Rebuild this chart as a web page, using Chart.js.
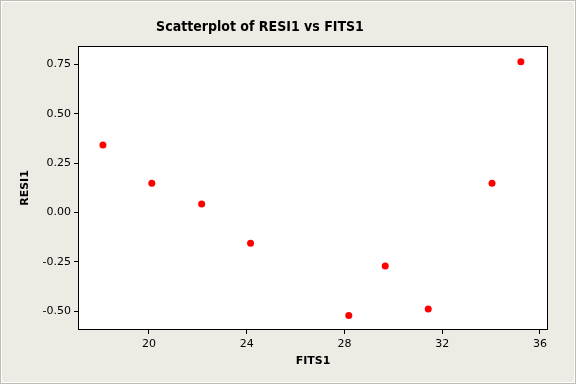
<!doctype html>
<html lang="en">
  <head>
    <meta charset="utf-8">
    <title>Scatterplot of RESI1 vs FITS1</title>
    <style>
      * { margin: 0; padding: 0; }
      body { width: 576px; height: 384px; overflow: hidden; }
      .chartBox { position: relative; width: 576px; height: 384px; }
    </style>
  </head>
  <body>
    <div class="chartBox">
      <canvas id="myChart"></canvas>
    </div>
    <script src="https://cdn.jsdelivr.net/npm/chart.js/dist/chart.umd.min.js"></script>
    <script>
      // data
      const fits = [18.12, 20.12, 22.16, 24.16, 28.18, 29.67, 31.43, 34.04, 35.22];
      const resi = [0.341, 0.148, 0.042, -0.156, -0.522, -0.272, -0.489, 0.148, 0.763];
      const xTicks = [20, 24, 28, 32, 36];
      const yTicks = [-0.50, -0.25, 0.00, 0.25, 0.50, 0.75];

      const bg = '#EEEBE4';
      const fontFamily = 'Tahoma, "DejaVu Sans", sans-serif';
      const titleFamily = '"DejaVu Sans Condensed", "DejaVu Sans", sans-serif';

      const points = fits.map((x, i) => ({ x, y: resi[i] }));

      // background, white plot area, frame and title
      const minitabFrame = {
        id: 'minitabFrame',
        beforeDraw(chart) {
          const { ctx, chartArea: { left, top, right, bottom }, width, height } = chart;
          ctx.save();
          ctx.fillStyle = bg;
          ctx.fillRect(0, 0, width, height);
          ctx.strokeStyle = '#BDBDB5';
          ctx.lineWidth = 1;
          ctx.strokeRect(0.5, 0.5, width - 1, height - 1);
          ctx.strokeStyle = '#FFFFFF';
          ctx.strokeRect(1.5, 1.5, width - 3, height - 3);
          ctx.fillStyle = '#FFFFFF';
          ctx.fillRect(left, top, right - left, bottom - top);
          ctx.restore();
        },
        afterDraw(chart) {
          const { ctx, chartArea: { left, top, right, bottom } } = chart;
          ctx.save();
          ctx.strokeStyle = '#000000';
          ctx.lineWidth = 1;
          ctx.strokeRect(left + 0.5, top + 0.5, right - left - 1, bottom - top - 1);
          ctx.fillStyle = '#000000';
          ctx.font = 'bold 14px ' + titleFamily;
          ctx.textAlign = 'center';
          ctx.textBaseline = 'middle';
          ctx.fillText('Scatterplot of RESI1 vs FITS1', 260, 27);
          ctx.restore();
        }
      };

      const data = {
        datasets: [{
          label: 'RESI1',
          data: points,
          backgroundColor: '#FF0000',
          borderColor: '#FF0000',
          pointRadius: 3.5,
          pointHoverRadius: 3.5,
          borderWidth: 0
        }]
      };

      const config = {
        type: 'scatter',
        data,
        options: {
          responsive: false,
          animation: false,
          layout: { padding: { left: 10, top: 46, right: 28, bottom: 0 } },
          plugins: {
            legend: { display: false },
            tooltip: { enabled: false }
          },
          scales: {
            x: {
              min: 17.1,
              max: 36.33,
              afterBuildTicks(scale) {
                scale.ticks = xTicks.map(v => ({ value: v }));
              },
              afterFit(scale) { scale.height = 54; },
              grid: { drawOnChartArea: false, drawTicks: true, tickLength: 4, color: '#000000' },
              border: { display: false },
              ticks: {
                color: '#000000',
                padding: 4,
                font: { family: fontFamily, size: 11 },
                callback: v => String(v)
              },
              title: {
                display: true,
                text: 'FITS1',
                color: '#000000',
                font: { family: fontFamily, size: 11, weight: 'bold' },
                padding: { top: 0, bottom: 16 }
              }
            },
            y: {
              min: -0.596,
              max: 0.843,
              afterBuildTicks(scale) {
                scale.ticks = yTicks.map(v => ({ value: v }));
              },
              afterFit(scale) { scale.width = 68; },
              grid: { drawOnChartArea: false, drawTicks: true, tickLength: 4, color: '#000000' },
              border: { display: false },
              ticks: {
                color: '#000000',
                padding: 3,
                font: { family: fontFamily, size: 11 },
                callback: v => Number(v).toFixed(2)
              },
              title: {
                display: true,
                text: 'RESI1',
                color: '#000000',
                font: { family: fontFamily, size: 11, weight: 'bold' },
                padding: { top: 9, bottom: 0 }
              }
            }
          }
        },
        plugins: [minitabFrame]
      };

      const canvas = document.getElementById('myChart');
      canvas.width = 576;
      canvas.height = 384;
      const myChart = new Chart(canvas, config);
    </script>
  </body>
</html>
